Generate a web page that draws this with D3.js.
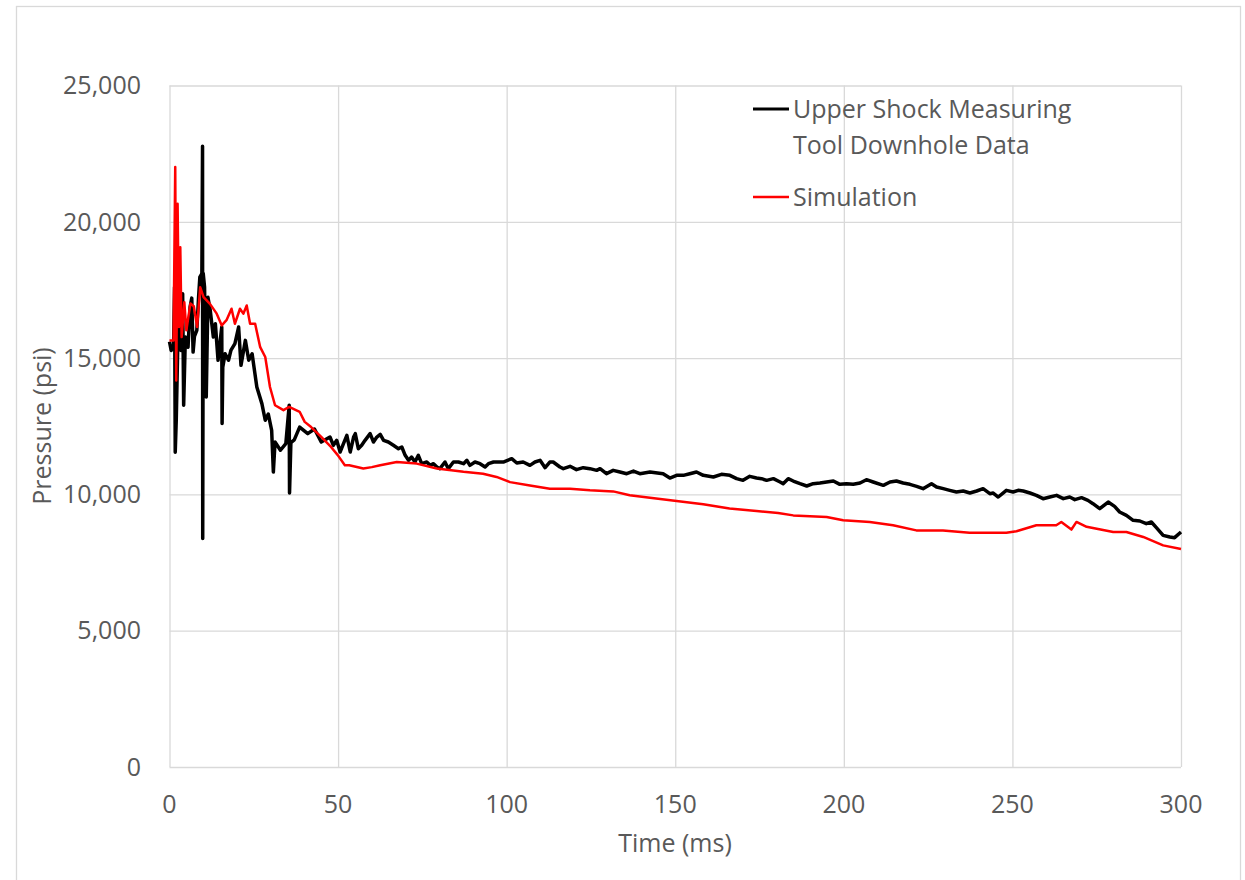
<!DOCTYPE html>
<html>
<head>
<meta charset="utf-8">
<script src="https://cdn.jsdelivr.net/npm/d3@7"></script>
<style>
  html, body { margin: 0; padding: 0; background: #fff; }
  svg { display: block; }
  text { font-family: "Open Sans", sans-serif; fill: #595959; }
</style>
</head>
<body>
<svg id="chart" width="1245" height="880"></svg>
<script>
// ---- Data ----
const xTicks = [0, 50, 100, 150, 200, 250, 300];
const yTicks = [0, 5000, 10000, 15000, 20000, 25000];
const seriesNames = ["Upper Shock Measuring Tool Downhole Data", "Simulation"];

const measuredTime = [0, 0.5, 1.2, 1.5, 1.7, 2.0, 2.5, 2.9, 3.4, 3.9, 4.2, 4.7, 5.5, 6.1, 6.6, 7.0, 7.4, 8.1, 8.6, 9.0, 9.6, 9.8, 9.85, 10.0, 10.4, 10.9, 11.4, 12.1, 13.0, 13.6, 14.4, 15.5, 15.6, 15.8, 16.5, 17.5, 18.2, 19.4, 20.5, 21.2, 22.5, 23.5, 24.5, 25.9, 27.4, 28.4, 29.3, 30.3, 30.8, 31.3, 32.9, 34.5, 35.5, 35.6, 36.0, 37, 38.6, 41, 43, 45,
  47.6, 48.6, 49.6, 50.6, 51.6, 52.6, 53.6, 54.6, 55.1, 56.0, 57.0, 58.0, 59.5, 60.5, 61.5, 62.5, 63.5, 64.9, 66.4, 67.9, 68.9, 69.9, 70.9, 71.8, 72.8, 73.8, 74.8, 76.3, 77.3, 78.3, 79.3, 80.2, 81.7, 82.7, 84.2, 85.7, 87.2, 88.2, 89.1, 90.6, 92.1, 93.6, 94.6, 96.1, 97.5, 99.0, 101.5, 103.0, 104.9, 106.9, 108.4, 109.9, 111.4, 112.8, 113.8, 115.8, 116.8, 118.8, 120.7, 122.7, 124.7, 126.7, 127.7, 129.6, 131.6, 133.6, 135.6, 137.6, 139.5, 142.5, 146.4, 148.4, 150.4, 152.4, 154.3, 156.3, 158.3, 161.3, 163.7, 166.2, 168.2, 170.1, 172.1, 174.1,
  175.6, 177.1, 179.1, 181.1, 182.0, 183.5, 185.0, 187.0, 189.0, 190.9, 192.9, 194.9, 196.9, 198.8, 200.8, 202.8, 204.8, 206.7, 208.7, 211.7, 213.7, 215.6, 217.6, 219.6, 221.6, 223.5, 226.0, 227.5, 229.5, 231.4, 233.4, 235.4, 237.4, 239.4, 241.3, 243.3, 244.3, 245.8, 248.2, 250.2, 251.7, 253.2, 255.2, 257.1, 259.1, 261.1, 263.1, 265.1, 267.0, 268.5, 270.5, 272.4, 273.9, 275.9, 278.4, 280.3, 281.8, 283.8, 285.8, 287.8, 289.7, 291.2, 292.7, 294.7, 296.7, 298.1, 300];
const measuredPressure = [15600, 15280, 15400, 17610, 11550, 12700, 15770, 17360, 15280, 17360, 13270, 15770, 15400, 16870, 17200, 15220, 15800, 16020, 17180, 17970, 18100, 22770, 8380, 18110, 17600, 13570, 17230, 16740, 15770, 16260, 14920, 16140, 12600, 14670, 15160, 14920, 15280, 15530, 16140, 14735, 15650, 14920, 15160, 13940, 13330, 12720, 12950, 12350, 10820, 11920, 11620, 11860, 13270, 10050, 11900, 12000, 12470, 12230, 12400, 11920,
  12105, 11800, 11983, 11555, 11861, 12167, 11555, 12105, 12228, 11677, 11800, 11983, 12228, 11922, 12105, 12203, 11983, 11922, 11800, 11677, 11739, 11433, 11250, 11372, 11188, 11433, 11127, 11188, 11066, 11127, 11005, 10944, 11188, 10944, 11188, 11188, 11127, 11250, 11066, 11188, 11127, 11005, 11127, 11188, 11188, 11188, 11311, 11152, 11188, 11066, 11188, 11250, 10981, 11188, 11188, 11005, 10944, 11030, 10907, 10980, 10944, 10883, 10944, 10760, 10883, 10822, 10760, 10858, 10760, 10822, 10760, 10601, 10699, 10699, 10760, 10822, 10699, 10638, 10736, 10699, 10577, 10516, 10663, 10601,
  10577, 10516, 10577, 10455, 10393, 10577, 10491, 10393, 10308, 10393, 10418, 10455, 10491, 10369, 10393, 10369, 10418, 10540, 10455, 10332, 10455, 10491, 10418, 10369, 10296, 10210, 10393, 10271, 10210, 10149, 10088, 10125, 10051, 10125, 10210, 10027, 10051, 9904, 10149, 10088, 10149, 10125, 10051, 9966, 9843, 9904, 9966, 9843, 9904, 9807, 9880, 9782, 9660, 9477, 9721, 9562, 9354, 9232, 9049, 9024, 8926, 8987, 8780, 8498, 8437, 8413, 8621];

const simTime = [0, 1.2, 1.7, 2.0, 2.4, 2.8, 3.2, 3.6, 4.4, 5.0, 6.2, 7.2, 8.2, 9.1, 10.1, 12, 14, 15.5, 16.9, 18.4, 19.4, 20.9, 21.9, 22.9, 23.9, 25.4, 26.9, 28.4, 29.8, 31.3, 33.8, 35.5, 38.6, 40.1, 42, 45, 47.9, 49.9, 52, 53.3, 57.5, 60, 62.5, 67.4, 73.3, 79.3, 87.2, 93, 97, 101, 106.9, 112.8, 118.8, 124.7, 131.6, 136.5, 142.5, 150.4, 158.3, 166.1, 174.1, 180.5, 185, 194.9, 199.8, 207.7, 214.6, 221.5, 229.4, 237.3, 248.2, 251.2, 257.1, 263, 264.5, 267.5, 269, 272, 279.9, 283.8, 288.8, 294.7, 300];
const simPressure = [15650, 15650, 22010, 14180, 20660, 16140, 19070, 15770, 17050, 16020, 17000, 16900, 16140, 17600, 17240, 16990, 16630, 16200, 16390, 16810, 16260, 16810, 16630, 16930, 16260, 16260, 15400, 15040, 13940, 13270, 13090, 13210, 13030, 12660, 12470, 12110, 11740, 11440, 11070, 11070, 10950, 11000, 11070, 11190, 11130, 10950, 10830, 10760, 10640, 10450, 10330, 10210, 10210, 10150, 10110, 9970, 9880, 9760, 9640, 9480, 9390, 9320, 9230, 9170, 9050, 8990, 8870, 8680, 8680, 8590, 8590, 8650, 8870, 8870, 8990, 8710, 8990, 8810, 8620, 8620, 8440, 8130, 8000];

// ---- Drawing ----
const svg = d3.select("#chart");
const gridColor = "#d9d9d9";

// outer chart border
svg.append("rect")
  .attr("x", 16.5).attr("y", 6.5)
  .attr("width", 1224).attr("height", 900)
  .attr("fill", "#fff").attr("stroke", gridColor).attr("stroke-width", 1.3);

const x = d3.scaleLinear().domain([0, 300]).range([169.5, 1181]);
const y = d3.scaleLinear().domain([0, 25000]).range([767, 85.5]);

// gridlines
const gx = svg.append("g").attr("transform", `translate(0,${y(0)})`)
  .call(d3.axisBottom(x).tickValues(xTicks).tickSize(-(y(0) - y(25000))).tickFormat(""));
gx.select(".domain").remove();
gx.selectAll("line").attr("stroke", gridColor).attr("stroke-width", 1.3);

const gy = svg.append("g").attr("transform", `translate(${x(0)},0)`)
  .call(d3.axisLeft(y).tickValues(yTicks).tickSize(-(x(300) - x(0))).tickFormat(""));
gy.select(".domain").remove();
gy.selectAll("line").attr("stroke", gridColor).attr("stroke-width", 1.3);

// tick labels
const fmt = d3.format(",");
svg.append("g").selectAll("text").data(yTicks).join("text")
  .attr("x", 141).attr("y", d => y(d))
  .attr("dy", "0.35em").attr("text-anchor", "end")
  .attr("font-size", 25).text(d => fmt(d));

svg.append("g").selectAll("text").data(xTicks).join("text")
  .attr("x", d => x(d)).attr("y", 804)
  .attr("dy", "0.35em").attr("text-anchor", "middle")
  .attr("font-size", 25).text(d => d);

// axis titles
svg.append("text").attr("x", 675).attr("y", 843).attr("dy", "0.35em")
  .attr("text-anchor", "middle").attr("font-size", 25).text("Time (ms)");
svg.append("text")
  .attr("transform", `translate(42,${426}) rotate(-90)`)
  .attr("dy", "0.35em").attr("text-anchor", "middle")
  .attr("font-size", 25).text("Pressure (psi)");

// lines
const measured = measuredTime.map((t, i) => [t, measuredPressure[i]]);
const sim = simTime.map((t, i) => [t, simPressure[i]]);
const line = d3.line().x(d => x(d[0])).y(d => y(d[1]));

svg.append("path").datum(measured)
  .attr("d", line).attr("fill", "none")
  .attr("stroke", "#000").attr("stroke-width", 3.5)
  .attr("stroke-linejoin", "round");

svg.append("path").datum(sim)
  .attr("d", line).attr("fill", "none")
  .attr("stroke", "#ff0000").attr("stroke-width", 2.5)
  .attr("stroke-linejoin", "round");

// legend
const lg = svg.append("g");
lg.append("line").attr("x1", 753).attr("x2", 789).attr("y1", 109).attr("y2", 109)
  .attr("stroke", "#000").attr("stroke-width", 3);
lg.append("text").attr("x", 793).attr("y", 109).attr("dy", "0.35em")
  .attr("font-size", 25).text("Upper Shock Measuring");
lg.append("text").attr("x", 793).attr("y", 145).attr("dy", "0.35em")
  .attr("font-size", 25).text("Tool Downhole Data");
lg.append("line").attr("x1", 753).attr("x2", 789).attr("y1", 197).attr("y2", 197)
  .attr("stroke", "#ff0000").attr("stroke-width", 2.5);
lg.append("text").attr("x", 793).attr("y", 197).attr("dy", "0.35em")
  .attr("font-size", 25).text(seriesNames[1]);
</script>
</body>
</html>
